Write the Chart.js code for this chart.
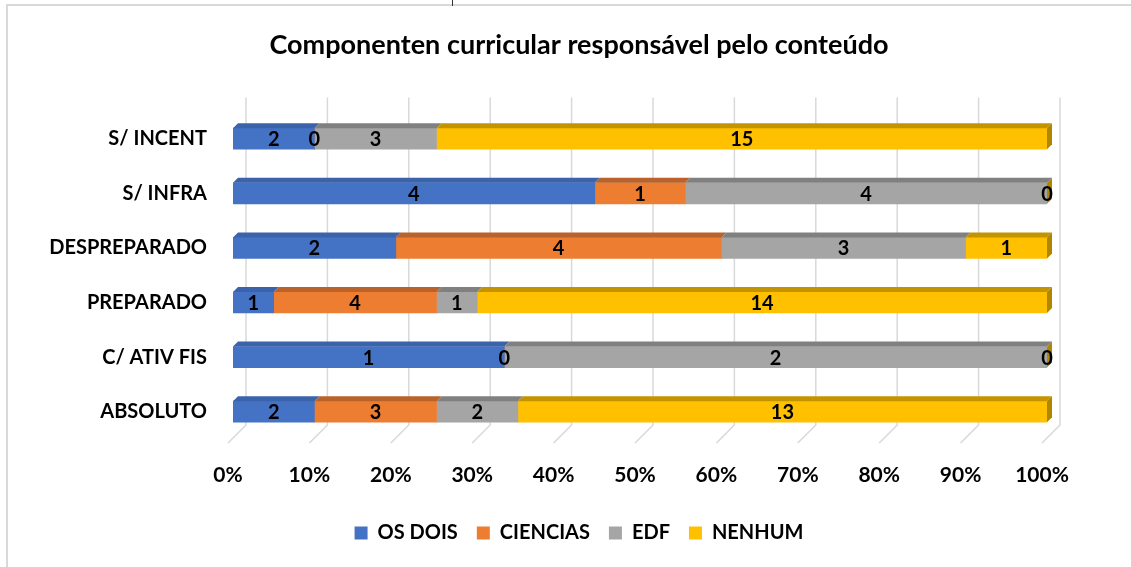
<!DOCTYPE html>
<html>
<head>
<meta charset="utf-8">
<script src="https://cdn.jsdelivr.net/npm/chart.js@4.4.0/dist/chart.umd.min.js"></script>
<style>
  html, body { margin: 0; padding: 0; background: #fff; }
  #wrap { width: 1131px; height: 567px; }
</style>
</head>
<body>
<div id="wrap"><canvas id="chart" width="1131" height="567"></canvas></div>
<script>
// values (raw counts per row)
const categories = ['S/ INCENT', 'S/ INFRA', 'DESPREPARADO', 'PREPARADO', 'C/ ATIV FIS', 'ABSOLUTO'];
const osDois   = [2, 4, 2, 1, 1, 2];
const ciencias = [0, 1, 4, 4, 0, 3];
const edf      = [3, 4, 3, 1, 2, 2];
const nenhum   = [15, 0, 1, 14, 0, 13];
const tickLabels = ['0%', '10%', '20%', '30%', '40%', '50%', '60%', '70%', '80%', '90%', '100%'];

const FONT = 'Lato, "Open Sans", "Liberation Sans", sans-serif';

// 100% stacked: each row is shown as share of its total
const totals = categories.map((c, i) => osDois[i] + ciencias[i] + edf[i] + nenhum[i]);
function share(arr) {
    return arr.map((v, i) => v / totals[i] * 100);
}

const series = [
    { label: 'OS DOIS',  counts: osDois,   color: '#4472C4', top: '#3A63AB', side: '#2F5597' },
    { label: 'CIENCIAS', counts: ciencias, color: '#ED7D31', top: '#B9622A', side: '#A35524' },
    { label: 'EDF',      counts: edf,      color: '#A5A5A5', top: '#808080', side: '#737373' },
    { label: 'NENHUM',   counts: nenhum,   color: '#FFC000', top: '#C49300', side: '#B08600' }
];

const DX = 5, DY = 5;

// frame round the picture
const framePlugin = {
    id: 'frame',
    afterLayout(chart) {
        // let the category labels run past the left padding without being clipped
        chart.scales.y.left = 0;
    },
    beforeDraw(chart) {
        const ctx = chart.ctx;
        ctx.save();
        ctx.fillStyle = '#fff';
        ctx.fillRect(0, 0, chart.width, chart.height);
        ctx.strokeStyle = '#D9D9D9';
        ctx.lineWidth = 2;
        ctx.beginPath();
        ctx.moveTo(7, chart.height);
        ctx.lineTo(7, 5);
        ctx.lineTo(chart.width, 5);
        ctx.stroke();
        ctx.strokeStyle = '#333';
        ctx.lineWidth = 1;
        ctx.beginPath();
        ctx.moveTo(452.5, 0);
        ctx.lineTo(452.5, 6);
        ctx.stroke();
        ctx.restore();
    }
};

// back wall gridlines + floor lines, like the 3d excel look
const gridPlugin = {
    id: 'grid3d',
    beforeDatasetsDraw(chart) {
        const ctx = chart.ctx;
        const xs = chart.scales.x;
        const area = chart.chartArea;
        ctx.save();
        ctx.strokeStyle = '#D9D9D9';
        ctx.lineWidth = 1.5;
        xs.ticks.forEach(t => {
            const px = xs.getPixelForValue(t.value);
            ctx.beginPath();
            ctx.moveTo(px + 13, area.top - 14);
            ctx.lineTo(px + 13, area.bottom - 14);
            ctx.lineTo(px - 5, area.bottom + 4);
            ctx.stroke();
        });
        ctx.restore();
    }
};

// top faces, side face and the count labels
const barPlugin = {
    id: 'bar3d',
    afterDatasetsDraw(chart) {
        const ctx = chart.ctx;
        ctx.save();
        chart.data.datasets.forEach((ds, di) => {
            const meta = chart.getDatasetMeta(di);
            meta.data.forEach(el => {
                const left = Math.min(el.base, el.x), right = Math.max(el.base, el.x);
                const top = el.y - el.height / 2;
                if (right - left > 0.5) {
                    ctx.fillStyle = series[di].top;
                    ctx.beginPath();
                    ctx.moveTo(left, top);
                    ctx.lineTo(right, top);
                    ctx.lineTo(right + DX, top - DY);
                    ctx.lineTo(left + DX, top - DY);
                    ctx.closePath();
                    ctx.fill();
                }
                if (di === chart.data.datasets.length - 1) {
                    const bottom = el.y + el.height / 2;
                    ctx.fillStyle = series[di].side;
                    ctx.beginPath();
                    ctx.moveTo(right, top);
                    ctx.lineTo(right + DX, top - DY);
                    ctx.lineTo(right + DX, bottom - DY);
                    ctx.lineTo(right, bottom);
                    ctx.closePath();
                    ctx.fill();
                }
            });
        });
        ctx.fillStyle = '#000';
        ctx.font = 'bold 20px ' + FONT;
        ctx.textAlign = 'center';
        ctx.textBaseline = 'middle';
        chart.data.datasets.forEach((ds, di) => {
            const meta = chart.getDatasetMeta(di);
            meta.data.forEach((el, i) => {
                const cx = (el.base + el.x) / 2;
                ctx.fillText(String(ds.counts[i]), cx, el.y + 1);
            });
        });
        ctx.restore();
    }
};

new Chart(document.getElementById('chart'), {
    type: 'bar',
    data: {
        labels: categories,
        datasets: series.map(s => ({
            label: s.label,
            data: share(s.counts),
            counts: s.counts,
            backgroundColor: s.color,
            borderWidth: 0,
            barThickness: 21
        }))
    },
    options: {
        indexAxis: 'y',
        responsive: false,
        animation: false,
        layout: { padding: { left: 111, right: 84, top: 0, bottom: 14 } },
        plugins: {
            title: {
                display: true,
                text: 'Componenten curricular responsável pelo conteúdo',
                color: '#000',
                font: { family: FONT, size: 27, weight: 'bold' },
                padding: { top: 29, bottom: 50 }
            },
            legend: {
                position: 'bottom',
                labels: {
                    color: '#000',
                    boxWidth: 13,
                    boxHeight: 13,
                    padding: 19,
                    font: { family: FONT, size: 20, weight: 'bold' }
                }
            },
            tooltip: { enabled: false }
        },
        scales: {
            x: {
                stacked: true,
                min: 0,
                max: 100,
                afterFit(s) { s.height = 65; },
                ticks: {
                    stepSize: 10,
                    padding: 24,
                    labelOffset: -5,
                    color: '#000',
                    font: { family: FONT, size: 21, weight: 'bold' },
                    callback: (v, i) => tickLabels[i]
                },
                grid: { display: false, drawTicks: false },
                border: { display: false }
            },
            y: {
                stacked: true,
                afterFit(s) { s.width = 122; },
                ticks: {
                    padding: 26,
                    color: '#000',
                    font: { family: FONT, size: 20, weight: 'bold' }
                },
                grid: { display: false, drawTicks: false },
                border: { display: false }
            }
        }
    },
    plugins: [framePlugin, gridPlugin, barPlugin]
});
</script>
</body>
</html>
